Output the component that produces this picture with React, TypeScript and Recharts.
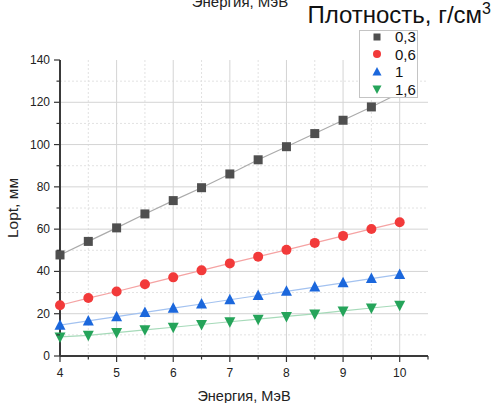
import React from 'react';
import { LineChart, Line, XAxis, YAxis, CartesianGrid, Legend } from 'recharts';

const energy = [4, 4.5, 5, 5.5, 6, 6.5, 7, 7.5, 8, 8.5, 9, 9.5, 10];
const rho03 = [47.8, 54.2, 60.6, 67.2, 73.5, 79.6, 86.1, 92.8, 99.0, 105.2, 111.5, 117.8, 124.4];
const rho06 = [24.0, 27.4, 30.5, 33.9, 37.2, 40.5, 43.8, 47.0, 50.2, 53.5, 56.8, 60.1, 63.3];
const rho1 = [14.6, 16.6, 18.6, 20.6, 22.6, 24.6, 26.6, 28.6, 30.6, 32.6, 34.6, 36.6, 38.6];
const rho16 = [9.0, 9.8, 11.1, 12.4, 13.6, 14.9, 16.2, 17.4, 18.7, 19.9, 21.3, 22.7, 24.0];

const xTicks = [4, 4.5, 5, 5.5, 6, 6.5, 7, 7.5, 8, 8.5, 9, 9.5, 10, 10.5];
const yTicks = [0, 10, 20, 30, 40, 50, 60, 70, 80, 90, 100, 110, 120, 130, 140];
const xMajorGrid = [5, 6, 7, 8, 9, 10];
const xMinorGrid = [4.5, 5.5, 6.5, 7.5, 8.5, 9.5];
const yMajorGrid = [20, 40, 60, 80, 100, 120];
const yMinorGrid = [10, 30, 50, 70, 90, 110, 130];

const series = [
  { key: 'a', name: '0,3', values: rho03, mark: '#4f4f4f', line: '#ababab', shape: 'square' },
  { key: 'b', name: '0,6', values: rho06, mark: '#f23a3a', line: '#f5a3a3', shape: 'circle' },
  { key: 'c', name: '1', values: rho1, mark: '#1b67dc', line: '#a3c2f0', shape: 'up' },
  { key: 'd', name: '1,6', values: rho16, mark: '#25a45a', line: '#a6dab9', shape: 'down' },
];

const data = energy.map((e, i) => {
  const row: Record<string, number> = { x: e };
  series.forEach((s) => { row[s.key] = s.values[i]; });
  return row;
});

const font = '"Liberation Sans", Arial, sans-serif';

const Marker = ({ cx, cy, shape, color, size = 9 }: any) => {
  if (cx == null || cy == null) return null;
  const h = size / 2;
  if (shape === 'square') return <rect x={cx - h} y={cy - h} width={size} height={size} fill={color} />;
  if (shape === 'circle') return <circle cx={cx} cy={cy} r={h + 0.5} fill={color} />;
  if (shape === 'up') return <path d={`M${cx},${cy - h - 1.5} L${cx + h + 1},${cy + h} L${cx - h - 1},${cy + h} Z`} fill={color} />;
  return <path d={`M${cx},${cy + h + 1.5} L${cx + h + 1},${cy - h} L${cx - h - 1},${cy - h} Z`} fill={color} />;
};

const XTick = ({ x, y, payload }: any) => {
  const major = Number.isInteger(payload.value);
  return (
    <g>
      <line x1={x} x2={x} y1={y} y2={y + (major ? 6 : 3.5)} stroke="#333" strokeWidth={1.2} />
      {major && payload.value <= 10 && (
        <text x={x} y={y + 21} textAnchor="middle" fontSize={12} fill="#222" fontFamily={font}>
          {payload.value}
        </text>
      )}
    </g>
  );
};

const YTick = ({ x, y, payload }: any) => {
  const major = payload.value % 20 === 0;
  return (
    <g>
      <line x1={x} x2={x - (major ? 6 : 3.5)} y1={y} y2={y} stroke="#333" strokeWidth={1.2} />
      {major && (
        <text x={x - 10} y={y + 4} textAnchor="end" fontSize={12} fill="#222" fontFamily={font}>
          {payload.value}
        </text>
      )}
    </g>
  );
};

const LegendBox = () => (
  <div
    style={{
      background: '#fff',
      border: '1px solid #c4c4c4',
      width: 59,
      height: 68,
      boxSizing: 'border-box',
      fontFamily: font,
    }}
  >
    <div style={{ marginTop: -3 }}>
      {series.map((s) => (
        <div key={s.key} style={{ display: 'flex', alignItems: 'center', height: 17.5 }}>
          <svg width={30} height={14} style={{ flex: 'none' }}>
            <Marker cx={17} cy={7} shape={s.shape} color={s.mark} size={7} />
          </svg>
          <span style={{ fontSize: 15, color: '#111', marginLeft: 5 }}>{s.name}</span>
        </div>
      ))}
    </div>
  </div>
);

export default function App() {
  return (
    <div style={{ position: 'absolute', left: 0, top: 0, width: 495, height: 403, background: '#fff', overflow: 'hidden' }}>
      <div style={{ position: 'absolute', left: 0, width: 480, top: -7, textAlign: 'center', fontFamily: font, fontSize: 15, color: '#222' }}>
        Энергия, МэВ
      </div>
      <div style={{ position: 'absolute', right: 4, top: 0, fontFamily: font, fontSize: 24, color: '#111', whiteSpace: 'nowrap', zIndex: 2 }}>
        Плотность, г/см<sup style={{ fontSize: 16 }}>3</sup>
      </div>
      <LineChart width={495} height={403} data={data} margin={{ top: 60, right: 67, left: 0, bottom: 0 }}>
        <CartesianGrid horizontal vertical horizontalValues={yMinorGrid} verticalValues={xMinorGrid} stroke="#e2e2e2" strokeDasharray="2 2" />
        <CartesianGrid horizontal vertical horizontalValues={yMajorGrid} verticalValues={xMajorGrid} stroke="#d4d4d4" />
        <XAxis
          type="number"
          dataKey="x"
          domain={[4, 10.5]}
          ticks={xTicks}
          interval={0}
          height={47}
          tickSize={0}
          tickMargin={0}
          tickLine={false}
          axisLine={{ stroke: '#3a3a3a', strokeWidth: 2 }}
          tick={<XTick />}
          label={{ value: 'Энергия, МэВ', position: 'insideBottom', offset: 2, fontSize: 14.5, fill: '#222', fontFamily: font }}
        />
        <YAxis
          type="number"
          domain={[0, 140]}
          ticks={yTicks}
          interval={0}
          width={60}
          tickSize={0}
          tickMargin={0}
          tickLine={false}
          axisLine={{ stroke: '#3a3a3a', strokeWidth: 2 }}
          tick={<YTick />}
          label={{ value: 'Lopt, мм', angle: -90, position: 'insideLeft', offset: 12, fontSize: 15.5, fill: '#222', fontFamily: font, style: { textAnchor: 'middle' } }}
        />
        {series.map((s) => (
          <Line
            key={s.key}
            dataKey={s.key}
            name={s.name}
            stroke={s.line}
            strokeWidth={1.2}
            isAnimationActive={false}
            dot={(p: any) => <Marker key={`${s.key}-${p.index}`} cx={p.cx} cy={p.cy} shape={s.shape} color={s.mark} />}
            activeDot={false}
          />
        ))}
        <Legend
          layout="horizontal"
          verticalAlign="middle"
          align="center"
          content={() => <LegendBox />}
          wrapperStyle={{ position: 'absolute', left: 359, top: 30, width: 59, height: 68 }}
        />
      </LineChart>
    </div>
  );
}
